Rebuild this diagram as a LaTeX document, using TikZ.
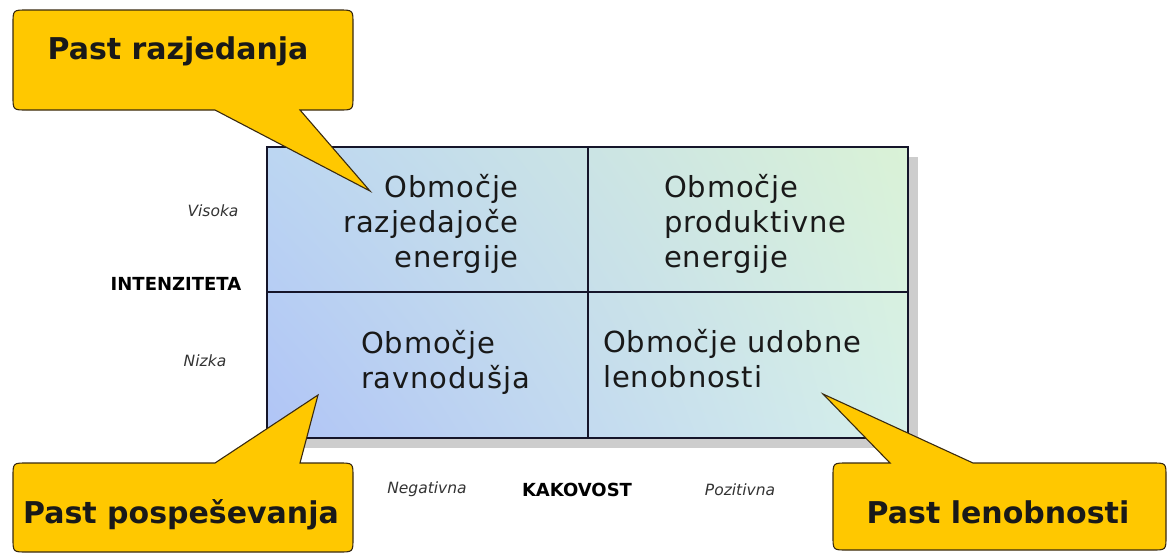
\documentclass[tikz,border=0pt]{standalone}
\usepackage{fontspec}
\setmainfont{DejaVu Sans}
\newfontfamily\qfont[LetterSpace=3]{DejaVu Sans}
\newfontfamily\cfont{DejaVu Sans}
\usetikzlibrary{calc,shadings}
\definecolor{callfill}{HTML}{FFC800}
\definecolor{callline}{HTML}{3A2A10}
\definecolor{gridline}{HTML}{15152A}
\definecolor{shadowc}{HTML}{CDCDCD}
\definecolor{cUL}{HTML}{BCD6F2}
\definecolor{cUR}{HTML}{DAF2D6}
\definecolor{cLL}{HTML}{B0C4F6}
\definecolor{cLR}{HTML}{D6F0EA}
\tikzset{
  callout/.style={fill=callfill, draw=callline, line width=1.1pt, line join=miter},
  calltext/.style={font=\cfont\bfseries\fontsize{30}{34}\selectfont, text=black!90},
  quadtext/.style={font=\qfont\fontsize{29}{35}\selectfont, text=black!90, inner sep=0pt},
  smallit/.style={font=\cfont\itshape\fontsize{15.5}{18}\selectfont, text=black!80},
  smallbf/.style={font=\cfont\bfseries\fontsize{18}{20}\selectfont, text=black},
}
\begin{document}
\begin{tikzpicture}[x=1pt,y=-1pt]
\useasboundingbox (0,0) rectangle (1172,555);
\fill[white] (0,0) rectangle (1172,555);
% shadow
\fill[shadowc] (277,157) rectangle (918,448);
% grid
\shade[upper left=cUL, upper right=cUR, lower left=cLL, lower right=cLR] (267,147) rectangle (908,438);
\draw[gridline, line width=1.6pt] (267,147) rectangle (908,438);
\draw[gridline, line width=1.6pt] (588,147) -- (588,438);
\draw[gridline, line width=1.6pt] (267,292) -- (908,292);
% quadrant texts
\node[quadtext, anchor=east, align=right] (tl) at (519,224) {Območje\\razjedajoče\\energije};
\node[quadtext, anchor=west, align=left] (tr) at (664,224) {Območje\\produktivne\\energije};
\node[quadtext, anchor=west, align=left] (bl) at (361,362) {Območje\\ravnodušja};
\node[quadtext, anchor=west, align=left] (br) at (603,359) {Območje udobne\\lenobnosti};
% axis labels
\node[smallit] (vis) at (213,211) {Visoka};
\node[smallbf] (int) at (176,284) {INTENZITETA};
\node[smallit] (niz) at (205,361) {Nizka};
\node[smallit] (neg) at (427,489) {Negativna};
\node[smallbf] (kak) at (577,490) {KAKOVOST};
\node[smallit] (poz) at (740,490) {Pozitivna};
% callout 1
\draw[callout] (370,191) -- (300,110) -- (339,110) .. controls (353,110) .. (353,96) -- (353,24) .. controls (353,10) .. (339,10) -- (27,10) .. controls (13,10) .. (13,24) -- (13,96) .. controls (13,110) .. (27,110) -- (215,110) -- cycle;
\node[calltext] (c1) at (178,51) {Past razjedanja};
% callout 2
\draw[callout] (318,395) -- (300,463) -- (339,463) .. controls (353,463) .. (353,477) -- (353,538) .. controls (353,552) .. (339,552) -- (27,552) .. controls (13,552) .. (13,538) -- (13,477) .. controls (13,463) .. (27,463) -- (215,463) -- cycle;
\node[calltext] (c2) at (181,515) {Past pospeševanja};
% callout 3
\draw[callout] (823,394) -- (973,463) -- (1152,463) .. controls (1166,463) .. (1166,477) -- (1166,536) .. controls (1166,550) .. (1152,550) -- (847,550) .. controls (833,550) .. (833,536) -- (833,477) .. controls (833,463) .. (847,463) -- (890,463) -- cycle;
\node[calltext] (c3) at (998,512) {Past lenobnosti};
\end{tikzpicture}
\end{document}
